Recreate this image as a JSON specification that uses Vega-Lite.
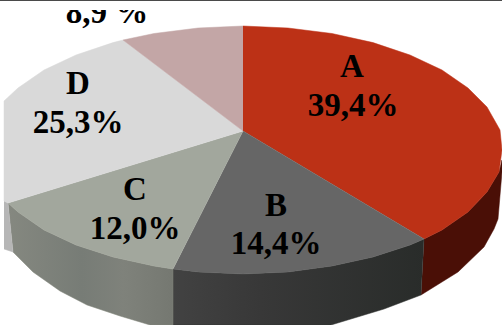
{
  "$schema": "https://vega.github.io/schema/vega-lite/v6.json",
  "width": 502,
  "height": 325,
  "autosize": {"type": "none"},
  "padding": 0,
  "background": "#ffffff",
  "view": {"stroke": null},
  "datasets": {
    "outline": [
      {"part":"A rim","i":1,"x":424,"y":239},{"part":"A rim","i":2,"x":442,"y":230},{"part":"A rim","i":3,"x":468,"y":212},{"part":"A rim","i":4,"x":487,"y":192},{"part":"A rim","i":5,"x":499,"y":172},{"part":"A rim","i":6,"x":502,"y":160},{"part":"A rim","i":7,"x":502,"y":172},{"part":"A rim","i":8,"x":498,"y":219},{"part":"A rim","i":9,"x":494,"y":229},{"part":"A rim","i":10,"x":484,"y":247},{"part":"A rim","i":11,"x":458,"y":272},{"part":"A rim","i":12,"x":421,"y":295},
      {"part":"B rim","i":1,"x":173,"y":269},{"part":"B rim","i":2,"x":198,"y":272},{"part":"B rim","i":3,"x":243,"y":274},{"part":"B rim","i":4,"x":288,"y":272},{"part":"B rim","i":5,"x":332,"y":266},{"part":"B rim","i":6,"x":373,"y":257},{"part":"B rim","i":7,"x":410,"y":245},{"part":"B rim","i":8,"x":424,"y":239},{"part":"B rim","i":9,"x":421,"y":295},{"part":"B rim","i":10,"x":384,"y":309},{"part":"B rim","i":11,"x":331,"y":325},{"part":"B rim","i":12,"x":173,"y":325},
      {"part":"C rim","i":1,"x":8,"y":203},{"part":"C rim","i":2,"x":18,"y":212},{"part":"C rim","i":3,"x":44,"y":230},{"part":"C rim","i":4,"x":76,"y":245},{"part":"C rim","i":5,"x":113,"y":257},{"part":"C rim","i":6,"x":154,"y":266},{"part":"C rim","i":7,"x":173,"y":269},{"part":"C rim","i":8,"x":173,"y":325},{"part":"C rim","i":9,"x":150,"y":325},{"part":"C rim","i":10,"x":120,"y":316},{"part":"C rim","i":11,"x":87,"y":305},{"part":"C rim","i":12,"x":60,"y":291},{"part":"C rim","i":13,"x":33,"y":272},{"part":"C rim","i":14,"x":13,"y":252},
      {"part":"D rim","i":1,"x":4,"y":201},{"part":"D rim","i":2,"x":8,"y":203},{"part":"D rim","i":3,"x":13,"y":252},{"part":"D rim","i":4,"x":4,"y":249},
      {"part":"A","i":1,"x":243,"y":131},{"part":"A","i":2,"x":243,"y":26},{"part":"A","i":3,"x":288,"y":28},{"part":"A","i":4,"x":332,"y":33.5},{"part":"A","i":5,"x":373,"y":42.6},{"part":"A","i":6,"x":410,"y":55},{"part":"A","i":7,"x":442,"y":70},{"part":"A","i":8,"x":468,"y":88},{"part":"A","i":9,"x":487,"y":107},{"part":"A","i":10,"x":500,"y":130},{"part":"A","i":11,"x":502,"y":150},{"part":"A","i":12,"x":499,"y":172},{"part":"A","i":13,"x":487,"y":192},{"part":"A","i":14,"x":468,"y":212},{"part":"A","i":15,"x":442,"y":230},{"part":"A","i":16,"x":424,"y":239},
      {"part":"B","i":1,"x":243,"y":131},{"part":"B","i":2,"x":424,"y":239},{"part":"B","i":3,"x":410,"y":245},{"part":"B","i":4,"x":373,"y":257},{"part":"B","i":5,"x":332,"y":266},{"part":"B","i":6,"x":288,"y":272},{"part":"B","i":7,"x":243,"y":274},{"part":"B","i":8,"x":198,"y":272},{"part":"B","i":9,"x":173,"y":269},
      {"part":"C","i":1,"x":243,"y":131},{"part":"C","i":2,"x":173,"y":269},{"part":"C","i":3,"x":154,"y":266},{"part":"C","i":4,"x":113,"y":257},{"part":"C","i":5,"x":76,"y":245},{"part":"C","i":6,"x":44,"y":230},{"part":"C","i":7,"x":18,"y":212},{"part":"C","i":8,"x":8,"y":203},
      {"part":"D","i":1,"x":243,"y":131},{"part":"D","i":2,"x":8,"y":203},{"part":"D","i":3,"x":4,"y":201},{"part":"D","i":4,"x":4,"y":101},{"part":"D","i":5,"x":18,"y":88},{"part":"D","i":6,"x":44,"y":70},{"part":"D","i":7,"x":76,"y":55},{"part":"D","i":8,"x":113,"y":42.6},{"part":"D","i":9,"x":123,"y":40},
      {"part":"E","i":1,"x":243,"y":131},{"part":"E","i":2,"x":123,"y":40},{"part":"E","i":3,"x":154,"y":33.5},{"part":"E","i":4,"x":198,"y":28},{"part":"E","i":5,"x":243,"y":26}
    ],
    "labels": [
      {"text":"A","x":352,"y":77},{"text":"39,4%","x":353,"y":116},
      {"text":"B","x":276,"y":216},{"text":"14,4%","x":276,"y":254},
      {"text":"C","x":135,"y":200},{"text":"12,0%","x":135,"y":239},
      {"text":"D","x":78,"y":94},{"text":"25,3%","x":78,"y":133},
      {"text":"8,9 %","x":107,"y":23}
    ],
    "mask": [{"x":60,"x2":160,"y":1,"y2":10}],
    "edge": [{"x":0,"x2":502,"y":0,"y2":1}]
  },
  "encoding": {
    "x": {"field":"x","type":"quantitative","axis":null,"scale":{"domain":[0,502],"nice":false,"zero":false}},
    "y": {"field":"y","type":"quantitative","axis":null,"scale":{"domain":[325,0],"nice":false,"zero":false}}
  },
  "layer": [
    {
      "data": {"name":"outline"},
      "transform": [{"filter":"datum.part === 'A rim'"}],
      "mark": {"type":"line","fill":"#4a0f06","stroke":"#4a0f06","strokeWidth":0.5},
      "encoding": {"order":{"field":"i","type":"quantitative"}}
    },
    {
      "data": {"name":"outline"},
      "transform": [{"filter":"datum.part === 'B rim'"}],
      "mark": {"type":"line","stroke":"#2f312f","strokeWidth":0.5,"fill":{"gradient":"linear","x1":0,"x2":1,"y1":0,"y2":0,"stops":[{"offset":0,"color":"#424242"},{"offset":0.35,"color":"#383838"},{"offset":1,"color":"#292c2a"}]}},
      "encoding": {"order":{"field":"i","type":"quantitative"}}
    },
    {
      "data": {"name":"outline"},
      "transform": [{"filter":"datum.part === 'C rim'"}],
      "mark": {"type":"line","stroke":"#808479","strokeWidth":0.5,"fill":{"gradient":"linear","x1":0,"x2":1,"y1":0,"y2":0,"stops":[{"offset":0,"color":"#858880"},{"offset":0.45,"color":"#777c76"},{"offset":0.7,"color":"#7f827b"},{"offset":1,"color":"#757871"}]}},
      "encoding": {"order":{"field":"i","type":"quantitative"}}
    },
    {
      "data": {"name":"outline"},
      "transform": [{"filter":"datum.part === 'D rim'"}],
      "mark": {"type":"line","fill":"#b6b6b6","stroke":"#b6b6b6","strokeWidth":0.5},
      "encoding": {"order":{"field":"i","type":"quantitative"}}
    },
    {
      "data": {"name":"outline"},
      "transform": [{"filter":"datum.part === 'A'"}],
      "mark": {"type":"line","fill":"#bc3116","stroke":"#bc3116","strokeWidth":0.5},
      "encoding": {"order":{"field":"i","type":"quantitative"}}
    },
    {
      "data": {"name":"outline"},
      "transform": [{"filter":"datum.part === 'B'"}],
      "mark": {"type":"line","fill":"#666666","stroke":"#666666","strokeWidth":0.5},
      "encoding": {"order":{"field":"i","type":"quantitative"}}
    },
    {
      "data": {"name":"outline"},
      "transform": [{"filter":"datum.part === 'C'"}],
      "mark": {"type":"line","fill":"#a2a79d","stroke":"#a2a79d","strokeWidth":0.5},
      "encoding": {"order":{"field":"i","type":"quantitative"}}
    },
    {
      "data": {"name":"outline"},
      "transform": [{"filter":"datum.part === 'D'"}],
      "mark": {"type":"line","fill":"#d9d9d9","stroke":"#d9d9d9","strokeWidth":0.5},
      "encoding": {"order":{"field":"i","type":"quantitative"}}
    },
    {
      "data": {"name":"outline"},
      "transform": [{"filter":"datum.part === 'E'"}],
      "mark": {"type":"line","fill":"#c3a6a6","stroke":"#c3a6a6","strokeWidth":0.5},
      "encoding": {"order":{"field":"i","type":"quantitative"}}
    },
    {
      "data": {"name":"labels"},
      "mark": {"type":"text","font":"Liberation Serif","fontWeight":"bold","fontSize":33,"align":"center","baseline":"alphabetic","color":"#000000"},
      "encoding": {"text":{"field":"text","type":"nominal"}}
    },
    {
      "data": {"name":"mask"},
      "mark": {"type":"rect","color":"#ffffff"},
      "encoding": {
        "x2":{"field":"x2"},
        "y2":{"field":"y2"}
      }
    },
    {
      "data": {"name":"edge"},
      "mark": {"type":"rect","color":"#4a4a4a"},
      "encoding": {
        "x2":{"field":"x2"},
        "y2":{"field":"y2"}
      }
    }
  ]
}
